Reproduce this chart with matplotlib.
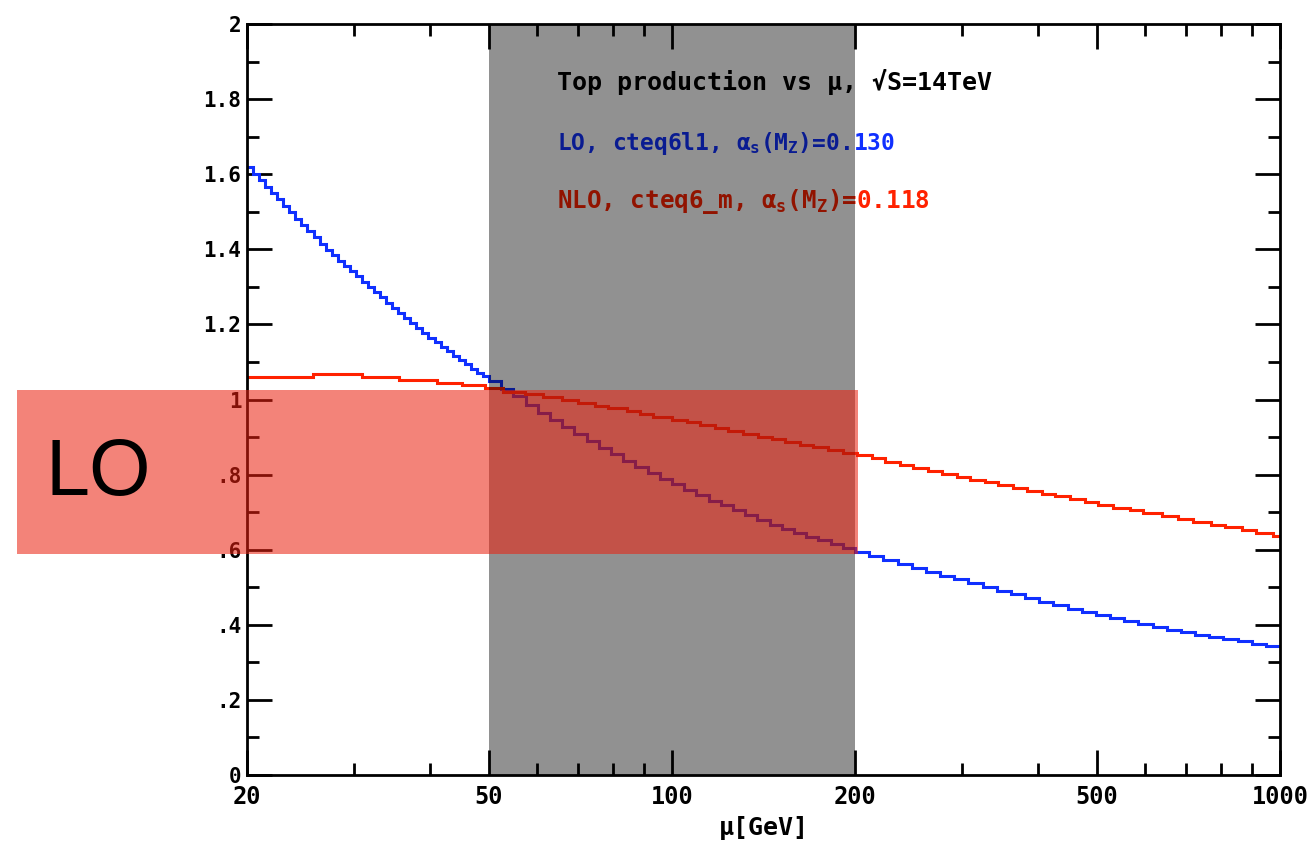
import numpy as np
import matplotlib
matplotlib.use("Agg")
import matplotlib.pyplot as plt
from matplotlib.patches import Rectangle
from matplotlib.ticker import FixedLocator, NullFormatter

# LO (blue) histogram: bins in three log-uniform pieces
lo_edges = np.concatenate([np.geomspace(20, 50, 41),
                           np.geomspace(50, 200, 31)[1:],
                           np.geomspace(200, 1000, 31)[1:]])
lo_values = [1.618, 1.601, 1.584, 1.567, 1.550, 1.533, 1.516, 1.499, 1.482, 1.466,
             1.449, 1.432, 1.415, 1.399, 1.385, 1.370, 1.356, 1.342, 1.328, 1.314,
             1.300, 1.285, 1.272, 1.258, 1.244, 1.231, 1.217, 1.203, 1.190, 1.176,
             1.163, 1.152, 1.140, 1.129, 1.117, 1.105, 1.094, 1.082, 1.071, 1.062,
             1.048, 1.029, 1.008, 0.986, 0.965, 0.945, 0.926, 0.907, 0.889, 0.872,
             0.854, 0.837, 0.820, 0.804, 0.789, 0.774, 0.760, 0.745, 0.730, 0.718,
             0.705, 0.692, 0.679, 0.667, 0.655, 0.645, 0.635, 0.625, 0.615, 0.605,
             0.594, 0.584, 0.573, 0.562, 0.552, 0.541, 0.531, 0.521, 0.511, 0.500,
             0.490, 0.481, 0.471, 0.461, 0.452, 0.443, 0.435, 0.426, 0.418, 0.410,
             0.403, 0.395, 0.387, 0.380, 0.374, 0.368, 0.362, 0.356, 0.350, 0.344]

# NLO (red) histogram
nlo_edges = [20, 25.7, 30.9, 35.6, 41.1, 45.2, 49.3, 52.8, 57.4, 61.4, 66.0, 70.1,
             74.8, 78.5, 84.4, 88.7, 93.1, 100.1, 105.9, 111.3, 117.8, 123.7, 131.0,
             138.7, 146.2, 153.6, 162.6, 170.8, 180.7, 191.3, 201.8, 213.6, 224.4,
             237.5, 249.5, 264.1, 278.4, 294.7, 309.6, 327.7, 344.3, 364.4, 384.2,
             406.7, 427.2, 452.2, 478.6, 502.8, 532.2, 567.6, 596.3, 640.8, 680.8,
             720.6, 768.6, 813.5, 867.6, 911.4, 972.3, 1000]
nlo_values = [1.059, 1.068, 1.059, 1.052, 1.045, 1.038,
              1.030, 1.021, 1.014, 1.006, 0.998, 0.991, 0.983, 0.977, 0.969, 0.961,
              0.954, 0.946, 0.939, 0.931, 0.924, 0.916, 0.908, 0.901, 0.894, 0.887,
              0.880, 0.873, 0.866, 0.858,
              0.851, 0.843, 0.834, 0.826, 0.818, 0.810, 0.802, 0.794, 0.786, 0.779,
              0.771, 0.763, 0.756, 0.749, 0.742, 0.734, 0.727, 0.719, 0.712, 0.705,
              0.697, 0.690, 0.682, 0.675, 0.667, 0.660, 0.652, 0.644, 0.636]

x_major = [20, 50, 100, 200, 500, 1000]
x_major_labels = ["20", "50", "100", "200", "500", "1000"]
x_minor = [30, 40, 60, 70, 80, 90, 300, 400, 600, 700, 800, 900]
y_major = [0, 0.2, 0.4, 0.6, 0.8, 1.0, 1.2, 1.4, 1.6, 1.8, 2.0]
y_major_labels = ["0", ".2", ".4", ".6", ".8", "1", "1.2", "1.4", "1.6", "1.8", "2"]
y_minor = [0.1, 0.3, 0.5, 0.7, 0.9, 1.1, 1.3, 1.5, 1.7, 1.9]

band = (50, 200)

BLUE = "#1030ff"
RED = "#ff2200"

plt.rcParams["font.family"] = ["DejaVu Sans Mono"]
plt.rcParams["font.weight"] = "bold"
plt.rcParams["mathtext.fontset"] = "custom"
plt.rcParams["mathtext.rm"] = "DejaVu Sans Mono:bold"
plt.rcParams["mathtext.it"] = "DejaVu Sans Mono:bold"
plt.rcParams["mathtext.bf"] = "DejaVu Sans Mono:bold"

fig = plt.figure(figsize=(13.09, 8.42), dpi=100)
ax = fig.add_axes([247 / 1309, 67 / 842, 1033 / 1309, 751 / 842])

ax.stairs(lo_values, lo_edges, baseline=None, color=BLUE, linewidth=2.2, zorder=2)
ax.stairs(nlo_values, nlo_edges, baseline=None, color=RED, linewidth=2.2, zorder=2)

# the grey band sits on top of curves and text (darkens them)
ax.axvspan(*band, color="black", alpha=0.43, lw=0, zorder=5)

ax.set_xscale("log")
ax.set_xlim(20, 1000)
ax.set_ylim(0, 2)

ax.xaxis.set_major_locator(FixedLocator(x_major))
ax.set_xticklabels(x_major_labels)
ax.xaxis.set_minor_locator(FixedLocator(x_minor))
ax.xaxis.set_minor_formatter(NullFormatter())
ax.yaxis.set_major_locator(FixedLocator(y_major))
ax.set_yticklabels(y_major_labels)
ax.yaxis.set_minor_locator(FixedLocator(y_minor))

ax.tick_params(which="both", direction="in", top=True, right=True, width=2)
ax.tick_params(which="major", length=18)
ax.tick_params(which="minor", length=8.5)
ax.tick_params(axis="x", which="major", labelsize=17, pad=7)
ax.tick_params(axis="y", which="major", labelsize=15, pad=4)
for s in ax.spines.values():
    s.set_linewidth(2)

ax.set_xlabel("\u03bc[GeV]", fontsize=18, fontweight="bold")
ax.xaxis.set_label_coords(0.5, -0.055)

ax.text(64.7, 1.846, "Top production vs \u03bc, \u221aS=14TeV", fontsize=18,
        color="black", va="center", ha="left", zorder=3)
ax.text(64.7, 1.683, r"LO, cteq6l1, $\alpha_s(M_Z)$=0.130", fontsize=16.5,
        color=BLUE, va="center", ha="left", zorder=3)
ax.text(64.7, 1.526, r"NLO, cteq6_m, $\alpha_s(M_Z)$=0.118", fontsize=17.5,
        color=RED, va="center", ha="left", zorder=3)

# salmon overlay box with the "LO" tag, drawn over everything
fig.add_artist(Rectangle((17 / 1309, 287.7 / 842), 841 / 1309, 164.3 / 842,
                         transform=fig.transFigure, facecolor=(235 / 255, 32 / 255, 15 / 255),
                         alpha=0.555, lw=0, zorder=10))
fig.text(45 / 1309, (842 - 474) / 842, "LO", fontsize=57, family="Liberation Sans",
         fontweight="normal", color="black", va="center", ha="left", zorder=11)

fig.savefig("out.png", dpi=100)
